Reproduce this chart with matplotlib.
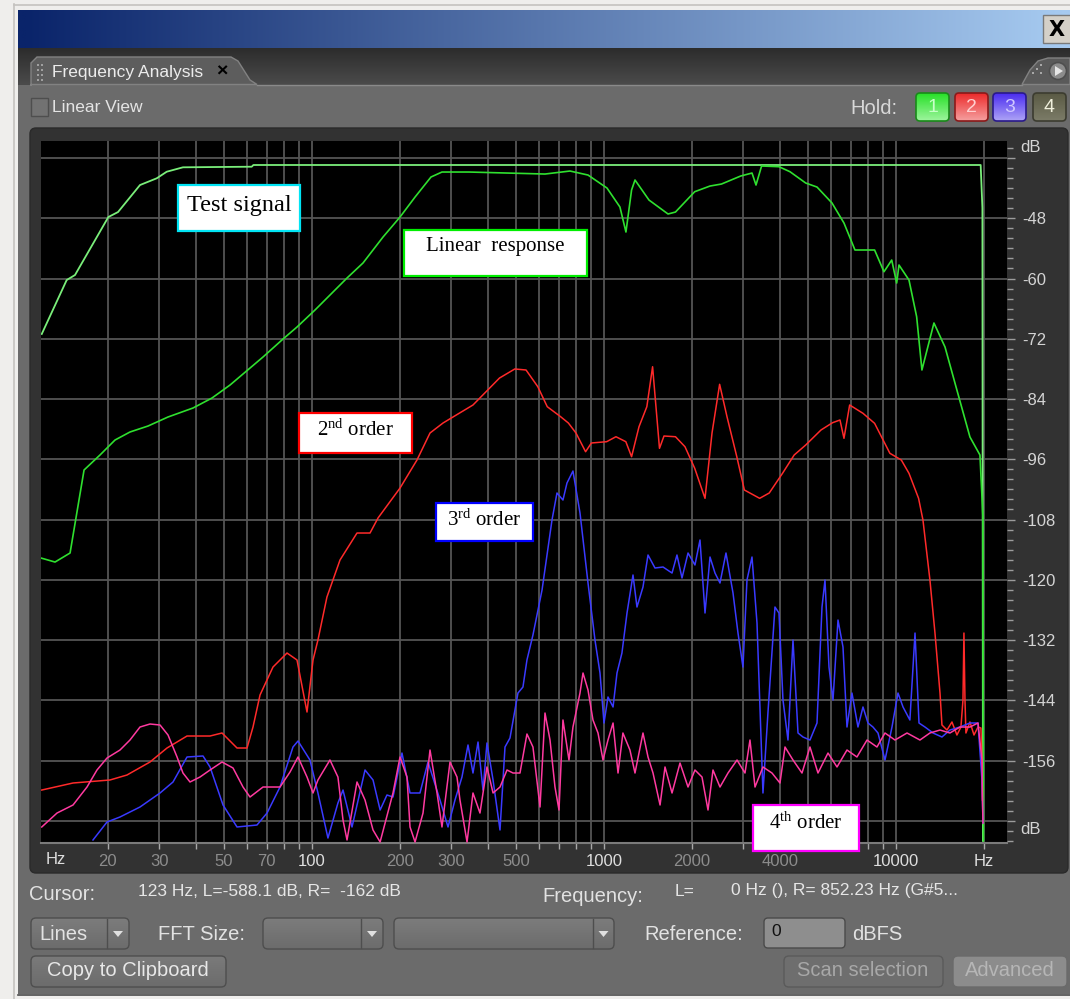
import numpy as np
import matplotlib
matplotlib.use("Agg")
import matplotlib.pyplot as plt
from matplotlib.patches import Rectangle, FancyBboxPatch, Circle, Polygon
from matplotlib.colors import to_rgb
from matplotlib.ticker import NullFormatter

plt.rcParams['font.family'] = ['Liberation Sans', 'DejaVu Sans']
plt.rcParams['mathtext.fontset'] = 'custom'
plt.rcParams['mathtext.rm'] = 'Liberation Serif'
plt.rcParams['mathtext.it'] = 'Liberation Serif:italic'

# ---- spectra (frequency in Hz, level in dB) ----
test_hz = [11.87, 14.45, 15.43, 20.07, 21.66, 25.76, 29.39, 31.8, 36.15, 62.15, 63.0,
           19500, 19770, 19850]
test_db = [-71.05, -60.3, -59.3, -47.75, -46.76, -41.38, -40.04, -38.73, -37.85, -37.73, -37.39,
           -37.39, -45.96, -172]

lin_hz = [11.8, 13.18, 14.84, 16.57, 18.79, 21.15, 23.8, 27.44, 32.13, 39.13, 45.45, 52.4,
          67.96, 79.57, 88.85, 102.4, 131.8, 149.5, 175.1, 200.2, 225.4, 255.6, 278.7, 345,
          628, 764.8, 881.6, 1024, 1134, 1189, 1243, 1277, 1426, 1657, 1757, 2045, 2307,
          2526, 2937, 3213, 3316, 3465, 3975, 4335, 4907, 5364, 6038, 6636, 7237, 8448,
          9097, 9669, 10055, 10240, 11080, 11770, 12270, 13490, 14720, 15920, 17920, 19390,
          19850, 19940]
lin_db = [-115.67, -116.47, -114.67, -98.14, -95.15, -92.17, -90.57, -89.38, -87.58, -85.79,
          -83.8, -81.21, -75.63, -72.05, -69.66, -66.27, -59.9, -56.91, -51.73, -47.75, -43.77,
          -39.78, -38.79, -38.79, -39.19, -38.59, -39.39, -41.98, -45.76, -50.74, -42.37,
          -40.38, -44.37, -47.15, -46.76, -42.71, -41.58, -41.18, -39.59, -38.99, -41.38,
          -37.59, -37.73, -38.73, -40.98, -41.78, -44.96, -48.95, -54.32, -54.32, -58.65,
          -56.32, -60.9, -57.31, -60.3, -67.61, -78.22, -68.86, -73.64, -80.81, -91.57,
          -95.15, -107.5, -172]

h2_hz = [11.87, 15.19, 20.33, 23.24, 27.87, 31.87, 37.32, 44.75, 49.19, 55.36, 59.9, 62.8,
         66.37, 73.52, 82.11, 88.85, 96.14, 100.8, 104.8, 112.5, 124.7, 142.6, 158.0, 168.3,
         200.2, 228.8, 253.6, 281, 304, 355.9, 438.7, 494.9, 540.8, 593.4, 639.3, 710.6,
         755.1, 801.8, 864.9, 905.2, 1021, 1099, 1188, 1243, 1318, 1402, 1467, 1549, 1605,
         1757, 1894, 2045, 2218, 2344, 2489, 2638, 2850, 3025, 3413, 3681, 4093, 4481, 4907,
         5536, 6063, 6430, 6636, 6940, 7709, 8448, 9530, 10430, 11080, 11950, 12370, 13070,
         13600, 14150, 14370, 14950, 15550, 16170, 16690, 16960, 17090, 17230, 17360, 17920,
         18500, 19090, 19540, 19700, 19770]
h2_db = [-161.88, -160.48, -159.88, -158.89, -156.3, -153.51, -151.12, -151.12, -150.52,
         -153.51, -153.51, -149.33, -142.95, -137.38, -134.59, -135.98, -146.34, -135.98,
         -132.0, -123.44, -116.07, -110.69, -110.69, -107.7, -101.73, -96.15, -90.77, -88.78,
         -87.58, -85.19, -79.82, -78.02, -78.22, -81.55, -85.53, -87.53, -88.78, -90.77, -94.5,
         -92.76, -92.5, -91.51, -92.5, -95.49, -89.52, -85.53, -77.57, -93.82, -91.37, -91.51,
         -93.5, -97.8, -103.78, -90.77, -81.07, -87.53, -95.49, -102.12, -103.78, -102.72,
         -98.74, -95.15, -93.16, -90.17, -88.72, -88.18, -91.83, -85.19, -86.85, -88.84,
         -94.81, -96.15, -98.8, -103.78, -108.1, -120.05, -130.61, -142.56, -148.93, -149.93,
         -148.33, -150.92, -149.33, -143.95, -130.61, -143.95, -150.52, -148.33, -150.92,
         -149.33, -149.53, -155.9, -163.87]

h3_hz = [17.78, 19.86, 22.0, 25.76, 30.17, 33.42, 37.32, 42.34, 44.75, 49.57, 55.36, 64.79,
         70.15, 77.7, 86.07, 89.56, 98.4, 104.8, 113.4, 122.7, 127.7, 137.1, 151.9, 161.8,
         171.1, 180.6, 189.4, 203.3, 216.6, 234.3, 249.6, 274.4, 292.3, 308.8, 326.3, 342.2,
         355.9, 370.3, 385.1, 397.4, 416.9, 440.4, 458.1, 476.5, 507.4, 527.8, 544.7, 571.1,
         613.5, 663.6, 690.2, 723.6, 746.9, 783, 827.6, 881.6, 931.4, 969, 1000, 1032, 1074,
         1108, 1152, 1199, 1257, 1297, 1360, 1415, 1495, 1593, 1710, 1778, 1850, 1940, 2049,
         2132, 2218, 2307, 2400, 2496, 2617, 2766, 2877, 2992, 3088, 3213, 3342, 3476, 3503,
         3643, 3851, 3975, 4102, 4267, 4439, 4618, 4803, 5075, 5364, 5580, 5713, 5896, 6086,
         6330, 6584, 6795, 7067, 7410, 7709, 8019, 8340, 8677, 9170, 9690, 10160, 10570,
         11160, 11620, 11990, 12570, 13390, 14370, 15300, 16560, 17920, 19090, 19700, 19860]
h3_db = [-171.83, -168.25, -167.25, -165.26, -162.47, -160.28, -155.3, -155.1, -157.29,
         -164.86, -169.24, -168.85, -166.46, -161.28, -153.31, -152.12, -155.9, -162.47,
         -171.44, -164.46, -161.88, -169.24, -157.89, -159.88, -165.86, -162.87, -163.27,
         -154.51, -162.47, -162.47, -156.3, -163.87, -169.24, -163.87, -159.29, -152.91,
         -158.49, -152.32, -161.88, -152.51, -159.88, -169.84, -153.31, -151.52, -142.56,
         -141.36, -135.98, -131.0, -122.04, -108.1, -102.72, -104.12, -100.73, -98.34, -106.7,
         -120.65, -132.0, -138.57, -148.53, -143.35, -145.34, -138.57, -134.59, -126.62,
         -119.05, -125.43, -121.44, -115.07, -117.66, -117.46, -118.66, -115.07, -119.65,
         -114.67, -117.06, -112.08, -126.62, -115.47, -118.66, -120.65, -114.67, -122.64,
         -130.61, -137.38, -120.05, -115.47, -128.61, -157.29, -162.47, -146.54, -125.43,
         -126.62, -143.95, -151.92, -132.0, -150.52, -151.32, -151.92, -148.53, -125.43,
         -120.05, -137.38, -143.95, -128.02, -133.39, -149.33, -142.56, -149.33, -145.34,
         -148.53, -149.33, -150.52, -155.9, -149.33, -142.56, -145.34, -147.93, -130.61,
         -148.53, -149.33, -150.52, -151.32, -149.93, -149.33, -148.53, -148.53, -159.88,
         -168.45]

h4_hz = [11.87, 13.39, 15.19, 16.96, 18.35, 19.86, 22.0, 23.8, 25.76, 27.87, 30.17, 32.13,
         34.5, 36.15, 38.21, 41.34, 44.75, 49.19, 53.64, 58.04, 61.33, 67.96, 77.7, 84.09,
         89.56, 96.14, 100.8, 104.8, 115.2, 122.7, 127.7, 131.8, 142.6, 151.9, 161.8, 171.1,
         189.4, 200.2, 211.5, 216.6, 225.4, 240.0, 253.6, 268.0, 278.7, 296.9, 313.7, 321.2,
         339.6, 355.9, 376.1, 397.4, 416.9, 440.4, 465.4, 488.0, 515.6, 544.7, 571.1, 603.8,
         628.0, 653.3, 679.5, 701.3, 723.6, 758.7, 783.0, 827.6, 847.5, 881.6, 916.7, 953.9,
         992.2, 1032, 1074, 1117, 1161, 1227, 1277, 1360, 1415, 1472, 1556, 1618, 1710, 1821,
         1940, 2049, 2166, 2271, 2362, 2496, 2659, 2855, 3040, 3162, 3290, 3503, 3761, 4006,
         4168, 4439, 4765, 5075, 5406, 5850, 6281, 6795, 7350, 7958, 8607, 9170, 9922, 10910,
         12080, 13070, 14150, 15300, 16560, 17920, 19090, 19700, 19770, 19860]
h4_db = [-169.24, -166.46, -164.86, -161.28, -157.89, -155.5, -153.91, -151.92, -149.33,
         -148.73, -148.93, -150.92, -155.3, -158.49, -160.28, -159.29, -157.89, -156.3,
         -157.49, -161.28, -163.27, -161.28, -161.28, -158.29, -155.3, -159.29, -162.47,
         -159.88, -155.9, -159.29, -167.85, -171.83, -160.28, -163.87, -169.84, -172.23,
         -162.47, -155.3, -159.29, -169.24, -172.23, -166.46, -153.91, -162.47, -169.24,
         -156.3, -159.29, -163.87, -172.23, -162.47, -166.46, -157.29, -162.47, -161.28,
         -157.89, -158.49, -158.49, -150.72, -153.31, -165.26, -146.54, -151.92, -161.28,
         -165.86, -147.93, -155.9, -149.33, -142.56, -138.57, -141.96, -147.93, -150.52,
         -155.9, -151.92, -148.53, -158.49, -150.52, -153.91, -158.49, -150.52, -155.3,
         -158.49, -164.86, -157.29, -162.47, -156.5, -161.28, -157.89, -159.29, -165.86,
         -157.89, -161.28, -158.49, -155.9, -158.49, -151.92, -161.28, -157.29, -158.49,
         -160.48, -153.31, -155.9, -158.49, -153.31, -158.49, -154.51, -157.29, -153.91,
         -155.3, -151.92, -153.31, -150.52, -151.92, -150.52, -151.92, -150.52, -149.93,
         -150.52, -149.33, -149.33, -148.53, -155.9, -163.27, -168.45]

# axis tick values and labels
x_label_hz = [20, 30, 50, 70, 100, 200, 300, 500, 1000, 2000, 4000, 10000, 20000]
x_labels = ['20', '30', '50', '70', '100', '200', '300', '500', '1000', '2000', '4000', '10000', 'Hz']
x_bright = ['100', '1000', '10000', 'Hz']
db_ticks = [-168, -156, -144, -132, -120, -108, -96, -84, -72, -60, -48, -36]

W, H = 1070, 999
fig = plt.figure(figsize=(W / 100, H / 100), dpi=100)
ui = fig.add_axes([0, 0, 1, 1])
ui.axis('off')


def box(x0, y0, x1, y1, fc, ec='none', lw=0.0, r=0, z=1, axes=None):
    a = axes or ui
    if r:
        p = FancyBboxPatch((x0, y0), x1 - x0, y1 - y0, boxstyle=f"round,pad=0,rounding_size={r}",
                           fc=fc, ec=ec, lw=lw, zorder=z)
    else:
        p = Rectangle((x0, y0), x1 - x0, y1 - y0, fc=fc, ec=ec, lw=lw, zorder=z)
    a.add_patch(p)
    return p


def shade(x0, y0, x1, y1, c0, c1, horizontal=False, r=0, ec='none', lw=0.0, z=2):
    t = np.linspace(0, 1, 64)[:, None]
    cols = np.array(to_rgb(c0)) * (1 - t) + np.array(to_rgb(c1)) * t
    arr = cols[None, :, :] if horizontal else cols[:, None, :]
    im = ui.imshow(arr, extent=(x0, x1, y1, y0), aspect='auto', interpolation='bilinear', zorder=z)
    if r:
        p = box(x0, y0, x1, y1, 'none', ec, lw, r, z + 0.1)
        im.set_clip_path(p)
    return im


def label(x, y, s, size=14.5, color='#e2e2e2', ha='left', **kw):
    ui.text(x, y, s, fontsize=size, color=color, ha=ha, va='center', zorder=10, **kw)


# ---- window chrome ----
box(0, 0, W, H, '#efeeec', z=0)
ui.plot([13.5, 13.5], [4, H], color='#c4c2bf', lw=1.2, zorder=0.5)
ui.plot([13.5, W], [4.5, 4.5], color='#c4c2bf', lw=1.2, zorder=0.5)
shade(18, 10, W, 48, '#0a246a', '#a6caf0', horizontal=True, z=1)
box(1043, 15, 1072, 43, '#d4d0c8', '#7a7a7a', 1.0, z=3)
ui.text(1057, 29.5, 'X', fontsize=15, fontweight='bold', family='DejaVu Sans',
        ha='center', va='center', color='black', zorder=4)

shade(18, 48, W, 86, '#2c2c2c', '#4c4c4c', z=1)
box(18, 85, W, 994, '#6b6b6b', z=1)
ui.add_patch(Polygon([(31, 86), (31, 63), (37, 57), (231, 57), (238, 61), (250, 80), (257, 84.5),
                      (31, 84.5)], closed=True, fc='#5d5d5d', ec='#828282', lw=1.0, zorder=2))
ui.plot([257, 1022], [84.5, 84.5], color='#8a8a8a', lw=1.0, zorder=2)
ui.add_patch(Polygon([(1022, 84.5), (1030, 70), (1038, 61), (1048, 58), (W, 58), (W, 84.5)],
                     closed=True, fc='#5a5a5a', ec='#828282', lw=1.0, zorder=2))
for gx in (37, 41):
    for gy in (64, 69, 74, 79):
        box(gx, gy, gx + 2, gy + 2, '#a0a0a0', z=3)
for gx, gy in [(1032, 72), (1036, 68), (1040, 72), (1040, 64)]:
    box(gx, gy, gx + 2, gy + 2, '#a8a8a8', z=3)
ui.add_patch(Circle((1058, 71), 8.5, fc='#8c8c8c', ec='#4e4e4e', lw=1.2, zorder=3))
ui.add_patch(Polygon([(1055, 66), (1055, 76), (1063, 71)], fc='#e6e6e6', ec='none', zorder=4))
label(52, 72, 'Frequency Analysis', size=12.5, color='#ececec')
ui.text(222, 72, '\u00d7', fontsize=14, fontweight='bold', ha='center', va='center',
        color='black', zorder=10)

box(31, 98, 48, 116, '#727272', '#4e4e4e', 1.0, z=3)
label(52, 107, 'Linear View', size=12.5, color='#e4e4e4')
label(850, 108, 'Hold:', size=14.5, color='#d8d8d8')
hold = [(916, '1', '#27e027', '#9ef59e', '#c8ffc8', '#1a8a1a'),
        (955, '2', '#ec2a2a', '#f5a0a0', '#ffd0d0', '#8a1a1a'),
        (993, '3', '#4a2cf0', '#aea4f6', '#d0c8ff', '#2a1a8a'),
        (1033, '4', '#5a5a44', '#7c7c68', '#f0f0dc', '#3c3c30')]
for hx, ht, ctop, cbot, tc, ec in hold:
    shade(hx, 93, hx + 33, 121, ctop, cbot, r=4, ec=ec, lw=1.2, z=3)
    label(hx + 16.5, 107.5, ht, size=14, color=tc, ha='center')

# plot frame
box(30, 128, 1068, 873, '#323232', '#2a2a2a', 1.0, r=6, z=2)

# ---- bottom controls ----
label(29, 895, 'Cursor:')
label(138, 891, '123 Hz, L=-588.1 dB, R=  -162 dB', size=12.5, color='#e6e6e6')
label(542, 897, 'Frequency:')
label(675, 891, 'L=', size=12.5, color='#e6e6e6')
label(731, 891, '0 Hz (), R= 852.23 Hz (G#5...', size=12.5, color='#e6e6e6')

for cx0, cx1, div in [(31, 129, 107), (263, 383, 361), (394, 614, 593)]:
    shade(cx0, 918, cx1, 949, '#7c7c7c', '#6c6c6c', r=5, ec='#4e4e4e', lw=1.0, z=3)
    ui.plot([div, div], [919, 948], color='#4e4e4e', lw=1.0, zorder=4)
    mx = (div + cx1) / 2
    ui.add_patch(Polygon([(mx - 5, 931), (mx + 5, 931), (mx, 937)], fc='#e0e0e0', zorder=4))
label(39, 934, 'Lines')
label(158, 935, 'FFT Size:')
label(644, 935, 'Reference:')
box(764, 918, 845, 948, '#8e8e8e', '#4a4a4a', 1.0, r=4, z=3)
label(771, 932, '0', size=12.5, color='#111111')
label(852, 935, 'dBFS')

shade(31, 956, 226, 987, '#7a7a7a', '#6c6c6c', r=5, ec='#4e4e4e', lw=1.0, z=3)
label(128, 971, 'Copy to Clipboard', ha='center', color='#e8e8e8')
box(784, 956, 943, 987, '#6e6e6e', '#5a5a5a', 1.0, r=5, z=3)
label(863, 971, 'Scan selection', ha='center', color='#a8a8a8')
box(953, 956, 1067, 987, '#8c8c8c', '#6a6a6a', 1.0, r=5, z=3)
label(1010, 971, 'Advanced', ha='center', color='#b6b6b6')
ui.plot([18, W], [994.5, 994.5], color='#4a4a4a', lw=1.2, zorder=3)

# ---- spectrum plot ----
ax = fig.add_axes([41 / W, 1 - 843 / H, (1007 - 41) / W, (843 - 141) / H])
ax.set_facecolor('black')
ax.set_xscale('log')
ax.set_xlim(11.8, 24000)
ax.set_ylim(-172.43, -32.61)
ax.set_axisbelow(True)

minor_hz = [m * d for d in (10, 100, 1000) for m in range(2, 10)] + [10000]
minor_hz = [f for f in minor_hz if f not in x_label_hz]
ax.set_xticks(x_label_hz, x_labels)
ax.set_xticks(minor_hz, minor=True)
ax.xaxis.set_minor_formatter(NullFormatter())
ax.tick_params(axis='x', which='both', direction='out', length=4, width=1, color='#a8a8a8',
               labelsize=12, pad=4)
for t in ax.get_xticklabels():
    t.set_color('#dedede' if t.get_text() in x_bright else '#8c8c8c')

ax.yaxis.tick_right()
ax.set_yticks(db_ticks, ['' if v in (-36, -168) else str(v) for v in db_ticks])
ax.set_yticks(list(range(-172, -32, 2)), minor=True)
ax.yaxis.set_minor_formatter(NullFormatter())
ax.tick_params(axis='y', which='major', direction='out', length=6, width=1, color='#9c9c9c',
               labelcolor='#d4d4d4', labelsize=12, pad=5)
ax.tick_params(axis='y', which='minor', direction='out', length=4, width=1, color='#9c9c9c')
ax.grid(True, which='both', axis='x', color='#555555', lw=1.3)
ax.grid(True, which='major', axis='y', color='#555555', lw=1.3)
for s in ax.spines.values():
    s.set_visible(False)
ax.spines['bottom'].set_visible(True)
ax.spines['bottom'].set_color('#7a7a7a')
ax.spines['bottom'].set_linewidth(1.5)

ax.plot(test_hz, test_db, color='#7aee7a', lw=1.3, zorder=3)
ax.plot(lin_hz, lin_db, color='#2fe02f', lw=1.2, zorder=3)
ax.plot(h2_hz, h2_db, color='#ff2a2a', lw=1.1, zorder=4)
ax.plot(h3_hz, h3_db, color='#3a3aff', lw=1.1, zorder=5)
ax.plot(h4_hz, h4_db, color='#ff3aa0', lw=1.1, zorder=6)

label(46, 859, 'Hz', size=12, color='#dedede')
label(1020, 148, 'dB', size=12, color='#d4d4d4')
label(1020, 830, 'dB', size=12, color='#d4d4d4')

# ---- callout boxes on top ----
top = fig.add_axes([0, 0, 1, 1])
top.patch.set_alpha(0)
top.axis('off')
callouts = [('Test signal', 178, 185, 300, 231, '#00e4f4', 17.5, 205),
            ('Linear  response', 404, 230, 587, 276, '#00ee00', 15, 247),
            ('2$^{\\rm nd}$ order', 299, 413, 412, 453, '#ff0000', 15, 430),
            ('3$^{\\rm rd}$ order', 436, 503, 533, 541, '#0000ff', 15, 520),
            ('4$^{\\rm th}$ order', 753, 805, 859, 851, '#ff00ff', 15, 823)]
for txt, x0, y0, x1, y1, ec, fs, ty in callouts:
    box(x0, y0, x1, y1, 'white', ec, 1.6, z=5, axes=top)
    top.text((x0 + x1) / 2, ty, txt, fontsize=fs, family='Liberation Serif', color='black',
             ha='center', va='center', zorder=6)

for a in (ui, top):
    a.set_xlim(0, W)
    a.set_ylim(H, 0)

fig.savefig('out.png', dpi=100)
